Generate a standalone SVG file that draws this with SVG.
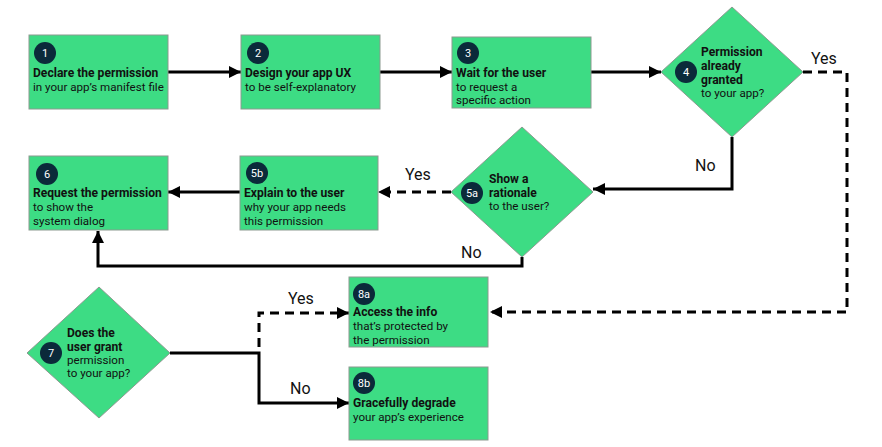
<svg xmlns="http://www.w3.org/2000/svg" width="882" height="447" viewBox="0 0 882 447">
<defs>
<style>
.box{fill:#3ddc84;stroke:#8c9a90;stroke-width:1}
.badge{fill:#0b2a3a}
.num{fill:#fff;font-family:Roboto,"Liberation Sans",sans-serif;font-size:11px;text-anchor:middle}
.t{font-family:Roboto,"Liberation Sans",sans-serif;font-size:11.6px;fill:#111}
.b{font-weight:bold;font-size:12.1px}
.lbl{font-family:Roboto,"Liberation Sans",sans-serif;font-size:16px;fill:#111}
.ln{fill:none;stroke:#000;stroke-width:3}
.dash{stroke-dasharray:9 6}
</style>
<marker id="ah" viewBox="0 0 10 10" refX="10" refY="5" markerUnits="userSpaceOnUse" markerWidth="13" markerHeight="12" orient="auto">
<path d="M0,0 L10,5 L0,10 z" fill="#000"/>
</marker>
</defs>

<g id="connectors">
<path class="ln" d="M168,72 H241" marker-end="url(#ah)"/>
<path class="ln" d="M380,72 H452" marker-end="url(#ah)"/>
<path class="ln" d="M591,72 H661" marker-end="url(#ah)"/>
<path class="ln dash" d="M803,72 H847 V312 H490" marker-end="url(#ah)"/>
<path class="ln" d="M732,137 V189 H593" marker-end="url(#ah)"/>
<path class="ln dash" d="M451,192 H378" marker-end="url(#ah)"/>
<path class="ln" d="M240,192 H168" marker-end="url(#ah)"/>
<path class="ln" d="M522,257 V266 H98 V231" marker-end="url(#ah)"/>
<path class="ln" d="M170,353 H259 V403 H349" marker-end="url(#ah)"/>
<path class="ln dash" d="M259,347 V313 H349" marker-end="url(#ah)"/>
<text class="lbl" x="811" y="64">Yes</text>
<text class="lbl" x="695" y="171">No</text>
<text class="lbl" x="405" y="180">Yes</text>
<text class="lbl" x="461" y="258">No</text>
<text class="lbl" x="288" y="304">Yes</text>
<text class="lbl" x="290" y="394">No</text>
</g>

<g id="n1">
<rect class="box" x="29" y="35" width="139" height="74"/>
<circle class="badge" cx="45" cy="53" r="11"/><text class="num" x="45" y="57">1</text>
<text class="t b" x="33" y="77">Declare the permission</text>
<text class="t" x="33" y="91">in your app’s manifest file</text>
</g>

<g id="n2">
<rect class="box" x="241" y="35" width="139" height="74"/>
<circle class="badge" cx="258" cy="53" r="11"/><text class="num" x="258" y="57">2</text>
<text class="t b" x="245" y="77">Design your app UX</text>
<text class="t" x="245" y="91">to be self-explanatory</text>
</g>

<g id="n3">
<rect class="box" x="452" y="37" width="139" height="71"/>
<circle class="badge" cx="468" cy="53" r="11"/><text class="num" x="468" y="57">3</text>
<text class="t b" x="456" y="77">Wait for the user</text>
<text class="t" x="456" y="90.5">to request a</text>
<text class="t" x="456" y="104">specific action</text>
</g>

<g id="n4">
<polygon class="box" points="732,7 803,72 732,137 661,72"/>
<circle class="badge" cx="686" cy="72" r="11"/><text class="num" x="686" y="76">4</text>
<text class="t b" x="701" y="56">Permission</text>
<text class="t b" x="701" y="70">already</text>
<text class="t b" x="701" y="84">granted</text>
<text class="t" x="701" y="97">to your app?</text>
</g>

<g id="n5a">
<polygon class="box" points="522,127 593,192 522,257 451,192"/>
<circle class="badge" cx="472" cy="193" r="11"/><text class="num" x="472" y="197">5a</text>
<text class="t b" x="489" y="183">Show a</text>
<text class="t b" x="489" y="197">rationale</text>
<text class="t" x="489" y="210">to the user?</text>
</g>

<g id="n5b">
<rect class="box" x="240" y="156" width="138" height="74"/>
<circle class="badge" cx="257" cy="173" r="11"/><text class="num" x="257" y="177">5b</text>
<text class="t b" x="244" y="197">Explain to the user</text>
<text class="t" x="244" y="211">why your app needs</text>
<text class="t" x="244" y="224.5">this permission</text>
</g>

<g id="n6">
<rect class="box" x="29" y="156" width="139" height="74"/>
<circle class="badge" cx="47" cy="174" r="11"/><text class="num" x="47" y="178">6</text>
<text class="t b" x="33" y="197">Request the permission</text>
<text class="t" x="33" y="211">to show the</text>
<text class="t" x="33" y="224.5">system dialog</text>
</g>

<g id="n7">
<polygon class="box" points="99,287 170,353 99,418 27,353"/>
<circle class="badge" cx="51" cy="353" r="11"/><text class="num" x="51" y="357">7</text>
<text class="t b" x="67" y="337">Does the</text>
<text class="t b" x="67" y="351">user grant</text>
<text class="t" x="67" y="364">permission</text>
<text class="t" x="67" y="377">to your app?</text>
</g>

<g id="n8a">
<rect class="box" x="349" y="277" width="139" height="70"/>
<circle class="badge" cx="364" cy="294" r="11"/><text class="num" x="364" y="298">8a</text>
<text class="t b" x="353" y="316">Access the info</text>
<text class="t" x="353" y="330">that’s protected by</text>
<text class="t" x="353" y="344">the permission</text>
</g>

<g id="n8b">
<rect class="box" x="349" y="367" width="139" height="73"/>
<circle class="badge" cx="364" cy="383" r="11"/><text class="num" x="364" y="387">8b</text>
<text class="t b" x="353" y="407">Gracefully degrade</text>
<text class="t" x="353" y="421">your app’s experience</text>
</g>
</svg>
